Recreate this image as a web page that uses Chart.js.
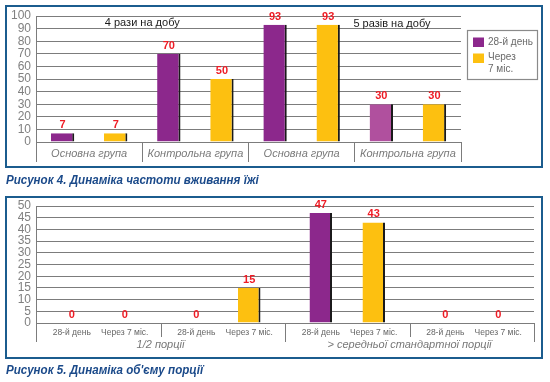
<!DOCTYPE html>
<html lang="uk">
<head>
  <meta charset="UTF-8">
  <title>Рисунок 4, 5</title>
  <script src="https://cdn.jsdelivr.net/npm/chart.js"></script>
  <style>
    body { margin: 0; background: #fff; font-family: "Liberation Sans", Arial, sans-serif; }
    .box { position: absolute; left: 5px; width: 538px; height: 163px; border: 2px solid #1b5c8e; box-sizing: border-box; }
    .wrap { position: absolute; left: 0; width: 550px; }
    .caption { position: absolute; left: 6px; font: italic bold 13.5px "Liberation Sans", Arial, sans-serif; color: #1b4a8a;
               white-space: nowrap; transform: scaleX(0.86); transform-origin: 0 0; }
  </style>
</head>
<body>
  <div class="box" style="top:5px"></div>
  <div class="wrap" style="top:0; height:190px"><canvas id="chart4"></canvas></div>
  <div class="caption" style="top:172px">Рисунок 4. Динаміка частоти вживання їжі</div>

  <div class="box" style="top:196px"></div>
  <div class="wrap" style="top:190px; height:170px"><canvas id="chart5"></canvas></div>
  <div class="caption" style="top:362px">Рисунок 5. Динаміка об'єму порції</div>

  <script>
    // --- дані ---
    const seriesNames = ['28-й день', 'Через 7 міс.'];
    const subLabels = ['28-й день', 'Через 7 міс.'];

    // Рисунок 4
    const groups4 = ['Основна група', 'Контрольна група', 'Основна група', 'Контрольна група'];
    const notes4 = ['4 рази на добу', '5 разів на добу'];
    const day28_4 = [7, 70, 93, 30];
    const month7_4 = [7, 50, 93, 30];
    const yTicks4 = [0, 10, 20, 30, 40, 50, 60, 70, 80, 90, 100];

    // Рисунок 5
    const groups5 = ['1/2 порції', '> середньої стандартної порції'];
    const slotGroup5 = [0, 0, 1, 1];
    const day28_5 = [0, 0, 47, 0];
    const month7_5 = [0, 15, 43, 0];
    const yTicks5 = [0, 5, 10, 15, 20, 25, 30, 35, 40, 45, 50];

    const PURPLE = '#8c288c';
    const PURPLE_LIGHT = '#b0509e';
    const YELLOW = '#fdc010';
    const GRID = '#7c7c7c';

    Chart.defaults.font.family = '"Liberation Sans", Arial, sans-serif';

    // червоні підписи над стовпчиками
    const valueLabels = {
      id: 'valueLabels',
      afterDatasetsDraw(chart) {
        const ctx = chart.ctx;
        ctx.save();
        ctx.fillStyle = '#ee1c25';
        ctx.font = 'bold 11px "Liberation Sans", Arial, sans-serif';
        ctx.textAlign = 'center';
        ctx.textBaseline = 'middle';
        chart.data.datasets.forEach((ds, i) => {
          chart.getDatasetMeta(i).data.forEach((bar, j) => {
            ctx.fillText(String(ds.data[j]), bar.x, bar.y - 8);
          });
        });
        ctx.restore();
      }
    };

    function barShadow(color) {
      return {
        backgroundColor: color,
        borderColor: '#1a1a1a',
        borderWidth: { top: 0, right: 2, bottom: 0, left: 0 },
        borderSkipped: false
      };
    }

    // легенда і написи для рис. 4
    const extras4 = {
      id: 'extras4',
      afterDraw(chart) {
        const ctx = chart.ctx;
        const x = chart.scales.x;
        ctx.save();
        ctx.fillStyle = '#1a1a1a';
        ctx.font = '11px "Liberation Sans", Arial, sans-serif';
        ctx.textAlign = 'center';
        ctx.textBaseline = 'middle';
        ctx.fillText(notes4[0], (x.getPixelForValue(0) + x.getPixelForValue(1)) / 2, 23);
        ctx.fillText(notes4[1], x.getPixelForValue(2.85), 24);

        // легенда
        ctx.strokeStyle = '#8a8a8a';
        ctx.lineWidth = 1.2;
        ctx.strokeRect(467.5, 30.5, 70, 49);
        ctx.textAlign = 'left';
        ctx.font = '10px "Liberation Sans", Arial, sans-serif';
        const rows = [[42.5], [57, 69.5]];
        chart.data.datasets.forEach((ds, i) => {
          const sq = i === 0 ? 37.5 : 53.5;
          ctx.fillStyle = Array.isArray(ds.backgroundColor) ? ds.backgroundColor[0] : ds.backgroundColor;
          ctx.fillRect(473, sq, 11, 9.5);
          ctx.fillStyle = '#6a6a6a';
          let lines = [ds.label];
          if (ctx.measureText(ds.label).width > 50) {
            const k = ds.label.indexOf(' ');
            lines = [ds.label.slice(0, k), ds.label.slice(k + 1)];
          }
          lines.forEach((t, n) => ctx.fillText(t, 488, rows[i][n]));
        });
        ctx.restore();
      }
    };

    new Chart(document.getElementById('chart4'), {
      type: 'bar',
      data: {
        labels: groups4,
        datasets: [
          Object.assign({ label: seriesNames[0], data: day28_4 },
            barShadow([PURPLE, PURPLE, PURPLE, PURPLE_LIGHT])),
          Object.assign({ label: seriesNames[1], data: month7_4 }, barShadow(YELLOW))
        ]
      },
      options: {
        responsive: true,
        maintainAspectRatio: false,
        animation: false,
        datasets: { bar: { barPercentage: 0.44, categoryPercentage: 1.0 } },
        layout: { padding: { top: 16, right: 89, bottom: 0, left: 0 } },
        plugins: { legend: { display: false }, tooltip: { enabled: false } },
        scales: {
          x: {
            grid: { offset: true, drawOnChartArea: false, drawTicks: true, tickLength: 20, color: GRID, lineWidth: 1 },
            border: { display: true, color: GRID },
            ticks: { padding: -15, color: '#7a7a7a', font: { size: 11, style: 'italic' }, maxRotation: 0, autoSkip: false },
            afterFit: s => { s.height = 48; }
          },
          y: {
            min: 0, max: 100,
            afterBuildTicks: s => { s.ticks = yTicks4.map(v => ({ value: v })); },
            ticks: { padding: 5, color: '#808080', font: { size: 12 }, autoSkip: false },
            grid: { drawTicks: false, color: GRID, lineWidth: 1 },
            border: { color: GRID },
            afterFit: s => { s.width = 36; }
          }
        }
      },
      plugins: [valueLabels, extras4]
    });

    // багаторівнева вісь для рис. 5
    const axis5 = {
      id: 'axis5',
      afterDraw(chart) {
        const ctx = chart.ctx;
        const x = chart.scales.x;
        const area = chart.chartArea;
        const half = (x.getPixelForValue(1) - x.getPixelForValue(0)) / 2;
        ctx.save();
        ctx.strokeStyle = GRID;
        ctx.lineWidth = 1;
        for (let k = 0; k <= slotGroup5.length; k++) {
          const px = Math.round(x.getPixelForValue(0) - half + k * 2 * half) + 0.5;
          const newGroup = k === 0 || k === slotGroup5.length || slotGroup5[k] !== slotGroup5[k - 1];
          ctx.beginPath();
          ctx.moveTo(px, area.bottom);
          ctx.lineTo(px, area.bottom + (newGroup ? 19 : 14));
          ctx.stroke();
        }
        ctx.fillStyle = '#666';
        ctx.textAlign = 'center';
        ctx.textBaseline = 'middle';
        ctx.font = '8.5px "Liberation Sans", Arial, sans-serif';
        chart.data.datasets.forEach((ds, i) => {
          chart.getDatasetMeta(i).data.forEach(bar => {
            ctx.fillText(subLabels[i], bar.x, area.bottom + 9.5);
          });
        });
        ctx.fillStyle = '#777';
        ctx.font = 'italic 11px "Liberation Sans", Arial, sans-serif';
        groups5.forEach((g, gi) => {
          const idx = slotGroup5.map((s, n) => s === gi ? n : -1).filter(n => n >= 0);
          const cx = (x.getPixelForValue(idx[0]) + x.getPixelForValue(idx[idx.length - 1])) / 2;
          ctx.fillText(g, cx, area.bottom + 22);
        });
        ctx.restore();
      }
    };

    new Chart(document.getElementById('chart5'), {
      type: 'bar',
      data: {
        labels: slotGroup5.map(g => groups5[g]),
        datasets: [
          Object.assign({ label: seriesNames[0], data: day28_5 }, barShadow(PURPLE)),
          Object.assign({ label: seriesNames[1], data: month7_5 }, barShadow(YELLOW))
        ]
      },
      options: {
        responsive: true,
        maintainAspectRatio: false,
        animation: false,
        datasets: { bar: { barPercentage: 0.425, categoryPercentage: 0.851 } },
        layout: { padding: { top: 16, right: 16, bottom: 0, left: 0 } },
        plugins: { legend: { display: false }, tooltip: { enabled: false } },
        scales: {
          x: {
            grid: { display: false },
            border: { display: false },
            ticks: { display: false },
            afterFit: s => { s.height = 37; }
          },
          y: {
            min: 0, max: 50,
            afterBuildTicks: s => { s.ticks = yTicks5.map(v => ({ value: v })); },
            ticks: { padding: 5, color: '#808080', font: { size: 12 }, autoSkip: false },
            grid: { drawTicks: false, color: GRID, lineWidth: 1 },
            border: { color: GRID },
            afterFit: s => { s.width = 36; }
          }
        }
      },
      plugins: [valueLabels, axis5]
    });
  </script>
</body>
</html>
